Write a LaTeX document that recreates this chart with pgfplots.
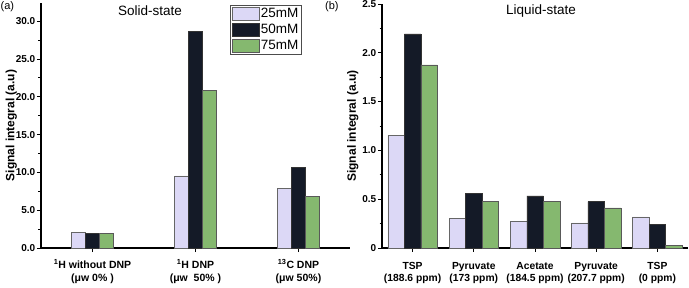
\documentclass[border=0pt]{standalone}
\usepackage{pgfplots}
\pgfplotsset{compat=1.18}
\usepackage{fontspec}
\setmainfont{Liberation Sans}
\definecolor{lav}{HTML}{DCD8F6}
\definecolor{dk}{HTML}{141A27}
\definecolor{gr}{HTML}{85B86F}
\pgfplotsset{
  mystyle/.style={
    scale only axis,
    axis x line*=bottom, axis y line*=left,
    axis line style={line width=1.3pt,-},
    ymin=0,
    tick align=outside,
    major tick length=4pt, minor tick length=2.5pt,
    tick style={line width=0.9pt, black},
    minor y tick num=1,
    yticklabel style={font=\fontsize{10}{12}\selectfont\bfseries, inner sep=1.5pt},
    ylabel style={font=\fontsize{12}{14}\selectfont\bfseries},
    legend image code/.code={\draw[#1] (0pt,-6.5pt) rectangle (27pt,6.5pt);},
  },
  b1/.style={fill=lav, draw=black!60, line width=0.5pt},
  b2/.style={fill=dk, draw=black!80, line width=0.5pt},
  b3/.style={fill=gr, draw=black!65, line width=0.5pt},
}
\begin{document}
\begin{tikzpicture}
\path[use as bounding box] (0pt,0pt) rectangle (689pt,287pt);
\begin{axis}[mystyle,
  at={(41pt,39pt)}, anchor=south west,
  width=309pt, height=245pt,
  xmin=-0.5, xmax=2.5, ymax=32.4,
  xtick={0,1,2},
  xticklabel style={font=\fontsize{10.5}{13}\selectfont\bfseries, align=center, yshift=-4pt},
  xticklabels={{\textsuperscript{1}H without DNP\\(μw 0\% )},{\textsuperscript{1}H DNP\\(μw \ 50\% )},{\textsuperscript{13}C DNP\\(μw 50\%)}},
  ytick={0,5,10,15,20,25,30},
  yticklabels={0.0,5.0,10.0,15.0,20.0,25.0,30.0},
  ylabel={Signal integral (a.u)},
  ylabel style={yshift=-6pt},
  legend style={at={(rel axis cs:0.612,0.992)}, anchor=north west, draw=black!70,
    font=\fontsize{13.5}{15}\selectfont, inner sep=1.5pt, row sep=2pt,
    nodes={inner sep=1.5pt}},
  legend cell align=left,
]
\addplot[ybar, b1, bar width=14pt, bar shift=-14pt] coordinates {(0,2.07) (1,9.55) (2,7.9)};
\addplot[ybar, b2, bar width=14pt, bar shift=0pt] coordinates {(0,1.98) (1,28.6) (2,10.67)};
\addplot[ybar, b3, bar width=14pt, bar shift=14pt] coordinates {(0,1.95) (1,20.8) (2,6.8)};
\legend{25mM,50mM,75mM}
\end{axis}
\begin{axis}[mystyle,
  at={(382pt,39pt)}, anchor=south west,
  width=306pt, height=244pt,
  xmin=-0.5, xmax=4.5, ymax=2.5,
  xtick={0,1,2,3,4},
  xticklabel style={font=\fontsize{10.3}{12}\selectfont\bfseries, align=center, yshift=-7pt},
  xticklabels={{TSP\\(188.6 ppm)},{Pyruvate\\(173 ppm)},{Acetate\\(184.5 ppm)},{Pyruvate\\(207.7 ppm)},{TSP\\(0 ppm)}},
  ytick={0,0.5,1,1.5,2,2.5},
  yticklabels={0,0.5,1.0,1.5,2.0,2.5},
  ylabel={Signal integral (a.u)},
  ylabel style={yshift=-1pt},
]
\addplot[ybar, b1, bar width=16.5pt, bar shift=-16.5pt] coordinates {(0,1.155) (1,0.30) (2,0.27) (3,0.258) (4,0.318)};
\addplot[ybar, b2, bar width=16.5pt, bar shift=0pt] coordinates {(0,2.195) (1,0.556) (2,0.535) (3,0.475) (4,0.24)};
\addplot[ybar, b3, bar width=16.5pt, bar shift=16.5pt] coordinates {(0,1.875) (1,0.48) (2,0.475) (3,0.41) (4,0.03)};
\end{axis}
\node[font=\fontsize{13.5}{16}\selectfont] at (150pt,276pt) {Solid-state};
\node[font=\fontsize{13.5}{16}\selectfont] at (541pt,276pt) {Liquid-state};
\node[font=\fontsize{11}{13}\selectfont, anchor=north west, inner sep=0pt] at (0.5pt,286pt) {(a)};
\node[font=\fontsize{11}{13}\selectfont, anchor=north west, inner sep=0pt] at (325pt,286pt) {(b)};
\end{tikzpicture}
\end{document}
